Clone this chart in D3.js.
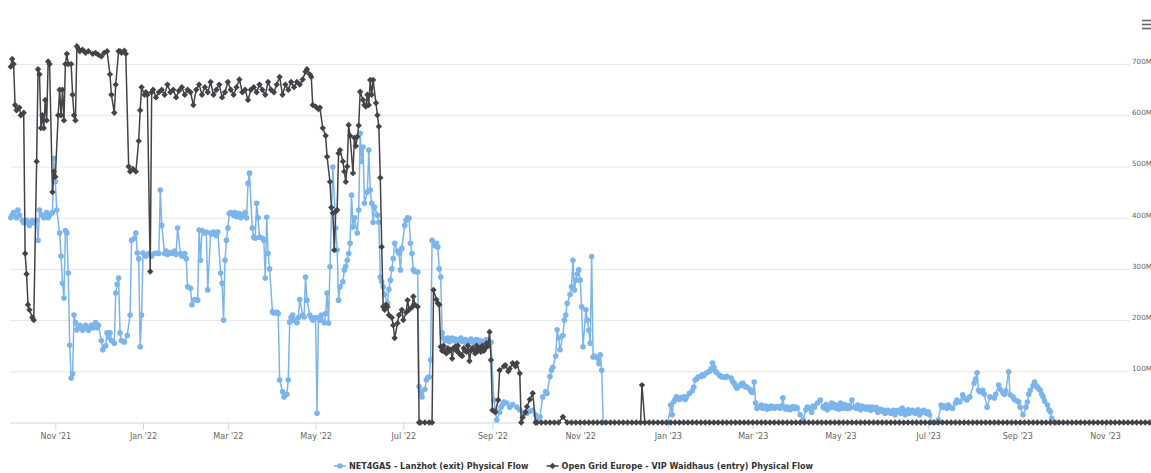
<!DOCTYPE html>
<html><head><meta charset="utf-8">
<script src="https://cdn.jsdelivr.net/npm/d3@7"></script>
<style>html,body{margin:0;padding:0;background:#fff;overflow:hidden}</style>
</head><body><svg id="c" width="1151" height="473"></svg>
<script>
// ---------- DATA ----------
const startDay = "2021-10-01";           // day 0 of the series
const endDay = 793;                        // last day shown on the axis (offset)
const blueName = "NET4GAS - Lanžhot (exit) Physical Flow";
const darkName = "Open Grid Europe - VIP Waidhaus (entry) Physical Flow";
const xTickMonths = ["2021-11-01","2022-01-01","2022-03-01","2022-05-01","2022-07-01","2022-09-01","2022-11-01","2023-01-01","2023-03-01","2023-05-01","2023-07-01","2023-09-01","2023-11-01"];
const yTickValues = [100,200,300,400,500,600,700];
const yTickSuffix = "M";

// [day offset from startDay, flow]
const blueFlow = [[0,400],[1,405],[2,410],[4,400],[5,415],[6,405],[8,395],[9,390],[11,395],[12,390],[13,385],[15,395],[16,390],[18,395],[19,356],[20,415],[22,405],[23,400],[25,410],[26,400],[27,405],[29,410],[30,516],[31,470],[32,415],[34,370],[35,325],[36,272],[37,243],[38,375],[39,370],[40,292],[41,151],[42,87],[43,95],[44,210],[45,195],[46,181],[48,190],[49,185],[50,180],[52,190],[53,185],[54,180],[56,190],[57,185],[59,195],[60,185],[61,190],[63,160],[64,142],[66,150],[67,175],[68,167],[69,175],[70,160],[72,155],[73,253],[74,270],[75,282],[76,175],[77,160],[79,157],[81,170],[83,210],[84,356],[86,360],[87,370],[88,331],[89,320],[90,148],[91,210],[92,331],[94,325],[96,330],[98,325],[100,330],[102,331],[103,330],[104,454],[105,385],[107,330],[108,335],[109,328],[111,332],[112,330],[114,335],[115,328],[116,380],[118,330],[119,325],[121,330],[122,320],[123,265],[125,262],[126,230],[128,240],[130,239],[131,376],[132,317],[133,375],[135,370],[136,372],[137,259],[139,370],[140,368],[141,372],[143,365],[144,372],[146,292],[147,272],[148,200],[149,317],[150,356],[151,380],[152,408],[153,410],[155,405],[156,410],[157,402],[159,408],[160,400],[162,405],[163,410],[164,400],[165,467],[166,487],[168,380],[169,362],[170,360],[171,428],[172,400],[173,362],[175,360],[176,356],[177,282],[178,401],[179,330],[180,300],[182,216],[183,214],[185,215],[186,213],[187,83],[189,60],[190,50],[192,55],[193,83],[194,196],[195,205],[196,210],[197,200],[199,195],[200,205],[201,240],[203,210],[204,206],[205,284],[206,239],[208,210],[209,205],[210,200],[212,205],[213,18],[214,205],[215,200],[216,210],[218,195],[219,213],[220,253],[221,194],[222,304],[224,499],[226,380],[227,337],[228,239],[229,265],[231,275],[232,298],[233,305],[234,317],[235,330],[236,350],[237,444],[238,382],[239,400],[241,370],[242,415],[243,565],[244,510],[245,538],[246,428],[248,450],[249,532],[250,454],[251,428],[252,391],[253,421],[255,405],[256,391],[257,284],[258,275],[259,265],[260,250],[262,233],[263,260],[264,278],[265,300],[266,320],[267,350],[269,335],[270,330],[271,298],[272,340],[274,385],[275,395],[276,400],[277,399],[278,350],[279,330],[280,298],[281,295],[283,294],[284,70],[285,60],[286,50],[288,65],[289,83],[290,88],[291,89],[292,122],[293,356],[295,345],[296,350],[297,343],[298,300],[299,284],[300,175],
[301,165],[302,160],[303,162],[304,165],[305,158],[306,160],[307,165],[308,160],[309,163],[310,158],[311,160],[312,162],[313,165],[314,158],[315,160],[316,162],[317,155],[318,160],[319,158],[320,163],[321,160],[322,155],[323,158],[324,162],[325,155],[326,160],[327,150],[328,158],[329,155],[330,160],[331,162],[332,158],[333,155],[334,157],
[336,44],[337,24],[338,5],[340,20],[341,30],[342,35],[343,40],[345,38],[347,30],[349,35],[352,30],[354,25],[356,20],[359,18],[361,22],[363,24],[365,15],[366,5],[368,11],[370,50],[372,60],[373,57],[375,90],[376,102],[377,108],[379,130],[380,181],[381,165],[382,142],[384,170],[385,200],[386,210],[387,233],[389,250],[390,265],[391,317],[392,259],[393,278],[394,290],[395,298],[396,278],[397,226],[398,148],[400,220],[401,200],[402,180],[403,155],[404,324],[405,128],[406,130],[408,126],[409,115],[410,132],[411,102],[412,0],[457,0],
[459,34],[460,15],[461,40],[462,45],[463,50],[465,45],[466,48],[468,50],[469,45],[470,50],[472,57],[474,62],[475,69],[476,83],[477,85],[478,89],[480,90],[481,93],[482,92],[484,97],[486,100],[487,105],[488,116],[489,108],[490,100],[491,97],[493,92],[494,90],[495,89],[497,88],[498,90],[501,87],[502,80],[503,77],[504,72],[505,67],[507,72],[508,75],[509,77],[510,72],[511,70],[512,69],[514,65],[515,60],[516,59],[517,79],[518,38],[519,28],[521,30],
[522,34],[523,28],[524,30],[525,32],[526,26],[527,30],[528,28],[529,32],[530,30],[531,28],[532,30],[533,31],[534,30],[535,28],[536,32],[537,48],[538,30],[539,26],[540,30],[541,28],[542,25],[543,29],[544,31],[545,27],[546,30],[547,28],
[549,15],[551,5],[553,25],[554,30],[555,28],[557,20],[558,32],[559,30],[561,38],[563,44],
[565,30],[566,28],[567,35],[568,25],[569,32],[570,30],[571,38],[572,30],[573,35],[574,28],[575,32],[576,26],[577,38],[578,30],[579,28],[580,35],[581,30],[582,27],[583,33],[584,29],[585,44],
[587,30],[588,28],[589,34],[590,30],[591,25],[592,32],[593,28],[594,30],[595,26],[596,30],[597,28],[598,24],[599,30],[600,26],[601,28],[602,29],[603,20],[604,24],[605,26],[606,22],
[607,24],[608,18],[609,20],[610,24],[611,22],[612,18],[613,20],[614,24],[615,15],[616,20],[617,24],[618,22],[619,18],[620,28],[621,22],[622,15],[623,20],[624,25],[625,18],[626,22],[627,24],[628,20],[629,18],[630,22],[631,25],[632,15],[633,19],[634,22],[635,24],[636,20],[637,18],[638,21],[639,15],
[641,0],[643,0],[645,5],[647,34],[648,30],[649,32],[651,28],[652,34],[653,30],[655,28],[657,38],[658,44],[660,40],[662,54],[663,48],[665,44],[667,50],[670,77],[671,85],[672,97],[673,63],[674,60],[676,63],[677,55],[679,30],[681,50],[684,48],[685,55],[687,73],[688,65],[690,58],[691,55],[692,62],[694,99],[695,54],[697,50],[698,45],[700,42],[701,40],[702,30],[704,15],[706,30],[707,40],[708,55],[709,63],[711,72],[712,79],[713,72],[714,69],[715,66],[716,63],[717,55],[718,50],[719,42],[721,34],[722,25],[723,21],[724,8],[727,0]];

const darkFlow = [[0,695],[1,710],[2,700],[3,620],[4,610],[6,615],[7,600],[9,605],[10,330],[11,290],[12,230],[13,220],[15,205],[16,200],[18,510],[19,690],[20,680],[21,575],[22,600],[23,575],[24,630],[25,590],[26,705],[27,700],[29,450],[30,490],[31,480],[33,600],[34,650],[35,600],[36,650],[37,590],[38,700],[39,720],[40,700],[42,700],[43,640],[44,600],[45,590],[46,735],[47,730],[48,725],[50,728],[52,722],[54,725],[57,720],[59,722],[61,718],[63,715],[65,722],[67,725],[69,680],[70,640],[72,605],[73,660],[75,725],[76,725],[77,722],[79,726],[80,720],[82,500],[83,490],[85,495],[87,490],[89,550],[90,610],[91,655],[93,640],[94,645],[95,640],[97,295],[98,645],
[99,650],[101,635],[103,645],[105,650],[107,640],[109,660],[111,645],[113,650],[115,635],[117,648],[119,655],[121,640],[123,650],[125,645],[127,620],[129,650],[131,660],[133,640],[135,655],[137,645],[139,665],[141,640],[143,650],[145,660],[147,635],[149,645],[151,665],[153,650],[155,640],[157,655],[159,670],[161,645],[163,650],[165,630],[167,650],[169,655],[171,645],[173,660],[175,650],[177,640],[179,665],[181,650],[183,645],[185,660],[187,675],[189,640],[191,660],[193,650],[195,665],[197,655],[199,665],[201,660],[203,670],
[205,685],[206,690],[208,680],[209,675],[210,620],[212,617],[214,612],[215,615],[217,575],[219,560],[220,519],[222,470],[223,420],[224,409],[225,337],[226,412],[227,415],[228,526],[229,532],[231,510],[232,490],[233,470],[234,500],[235,581],[236,560],[238,487],[239,556],[240,540],[241,558],[242,580],[243,646],[245,630],[246,620],[247,617],[248,640],[249,620],[250,669],[251,640],[252,669],[254,624],[255,600],[256,578],[257,478],[258,343],[259,226],[260,220],[261,230],[262,226],[263,210],[265,205],[266,190],[267,165],[269,194],[270,210],[272,220],[273,200],[275,215],[276,239],[277,220],[279,225],[280,246],[281,230],[283,226],[284,0],[285,0],[288,0],[291,0],[293,0],[294,259],[296,240],[297,233],[298,230],[299,148],[300,140],
[301,150],[302,138],[303,135],[304,145],[305,140],[306,142],[307,125],[308,145],[309,148],[310,140],[311,150],[312,135],[313,132],[314,130],[315,145],[316,140],[317,138],[318,150],[319,120],[320,140],[321,145],[322,142],[323,135],[324,150],[325,140],[326,145],[327,138],[328,150],[329,140],[330,145],[331,155],[332,150],
[333,177],[334,122],[335,24],[337,20],[339,44],[340,102],[343,110],[344,112],[346,100],[347,105],[349,116],[351,110],[352,116],[354,96],[355,0],[356,10],[358,20],[359,31],[361,45],[363,57],[365,0],
[366,0],[369,0],[372,0],[375,0],[378,0],[381,0],[384,11],[387,0],[390,0],[393,0],[396,0],[399,0],[402,0],[405,0],[408,0],[411,0],[414,0],[417,0],[420,0],[423,0],[426,0],[429,0],[432,0],[435,0],[438,0],[439,73],[441,0],[444,0],[447,0],[450,0],[453,0],[456,0],[459,0],[462,0],[465,0],[468,0],[471,0],[474,0],[477,0],[480,0],[483,0],[486,0],[489,0],[492,0],[495,0],[498,0],[501,0],[504,0],[507,0],[510,0],[513,0],[516,0],[519,0],[522,0],[525,0],[528,0],[531,0],[534,0],[537,0],[540,0],[543,0],[546,0],[549,0],[552,0],[555,0],[558,0],[561,0],[564,0],[567,0],[570,0],[573,0],[576,0],[579,0],[582,0],[585,0],[588,0],[591,0],[594,0],[597,0],[600,0],[603,0],[606,0],[609,0],[612,0],[615,0],[618,0],[621,0],[624,0],[627,0],[630,0],[633,0],[636,0],[639,0],[642,0],[645,0],[648,0],[651,0],[654,0],[657,0],[660,0],[663,0],[666,0],[669,0],[672,0],[675,0],[678,0],[681,0],[684,0],[687,0],[690,0],[693,0],[696,0],[699,0],[702,0],[705,0],[708,0],[711,0],[714,0],[717,0],[720,0],[723,0],[726,0],[729,0],[732,0],[735,0],[738,0],[741,0],[744,0],[747,0],[750,0],[753,0],[756,0],[759,0],[762,0],[765,0],[768,0],[771,0],[774,0],[777,0],[780,0],[783,0],[786,0],[789,0],[792,0]];

// ---------- DRAW ----------
const W = 1151, H = 473;
const FONT = "'DejaVu Sans', 'Liberation Sans', sans-serif";
const blueColor = "#7cb5ec", darkColor = "#434348";
const svg = d3.select("#c");
const parse = d3.utcParse("%Y-%m-%d");
const t0 = parse(startDay);
const toDate = d => d3.utcDay.offset(t0, d);
const plotLeft = 10, gridRight = 1130;

const x = d3.scaleUtc().domain([t0, toDate(endDay)]).range([10.75, W]);
const y = d3.scaleLinear().domain([0, 700]).range([422.5, 64.1]);

// gridlines
const grid = svg.append("g").attr("transform", `translate(${gridRight},0)`)
  .call(d3.axisLeft(y).tickValues(yTickValues).tickSize(gridRight - plotLeft).tickFormat(""));
grid.select(".domain").remove();
grid.selectAll("line").attr("stroke", "#e6e6e6").attr("stroke-width", 1);

// y labels (right side)
const yl = svg.append("g").attr("transform", `translate(1132,-3)`)
  .call(d3.axisRight(y).tickValues(yTickValues).tickSize(0).tickPadding(0).tickFormat(v => v + yTickSuffix));
yl.select(".domain").remove();
yl.selectAll("text").attr("fill", "#666").style("font-family", FONT).style("font-size", "7.2px");

// x axis
const xa = svg.append("g").attr("transform", `translate(0,${y(0)})`)
  .call(d3.axisBottom(x).tickValues(xTickMonths.map(parse)).tickFormat(d3.utcFormat("%b '%y")).tickSize(7).tickPadding(4));
xa.select(".domain").remove();
xa.selectAll("line").attr("stroke", "#ccd6eb");
xa.selectAll("text").attr("fill", "#666").style("font-family", FONT).style("font-size", "8px");
svg.append("line").attr("x1", plotLeft).attr("x2", W).attr("y1", y(0) + 0.5).attr("y2", y(0) + 0.5)
  .attr("stroke", "#ccd6eb");

// series
const line = d3.line().x(d => x(toDate(d[0]))).y(d => y(d[1]));
function drawSeries(data, color, shape) {
  const g = svg.append("g");
  g.append("path").datum(data).attr("d", line).attr("fill", "none")
    .attr("stroke", color).attr("stroke-width", 1.5).attr("stroke-linejoin", "round");
  if (shape === "circle") {
    g.selectAll("circle").data(data).join("circle")
      .attr("cx", d => x(toDate(d[0]))).attr("cy", d => y(d[1])).attr("r", 2.8).attr("fill", color);
  } else {
    g.selectAll("path.m").data(data).join("path").attr("class", "m")
      .attr("d", d => { const cx = x(toDate(d[0])), cy = y(d[1]), r = 3.2;
        return `M${cx},${cy - r}L${cx + r},${cy}L${cx},${cy + r}L${cx - r},${cy}Z`; })
      .attr("fill", color);
  }
}
drawSeries(blueFlow, blueColor, "circle");
drawSeries(darkFlow, darkColor, "diamond");

// menu icon
const menu = svg.append("g").attr("stroke", "#666").attr("stroke-width", 1.6);
[20.5, 24.5, 28.5].forEach(yy => menu.append("line").attr("x1", 1142).attr("x2", 1153).attr("y1", yy).attr("y2", yy));

// legend
const leg = svg.append("g");
const items = [{name: blueName, color: blueColor, shape: "circle"}, {name: darkName, color: darkColor, shape: "diamond"}];
let cursor = 0;
const ly = 466;
items.forEach((it, i) => {
  const g = leg.append("g").attr("transform", `translate(${cursor},0)`);
  g.append("line").attr("x1", 0).attr("x2", 12).attr("y1", ly).attr("y2", ly).attr("stroke", it.color).attr("stroke-width", 1.5);
  if (it.shape === "circle") g.append("circle").attr("cx", 6).attr("cy", ly).attr("r", 2.8).attr("fill", it.color);
  else g.append("path").attr("d", `M6,${ly-3.2}L9.2,${ly}L6,${ly+3.2}L2.8,${ly}Z`).attr("fill", it.color);
  const t = g.append("text").attr("x", 15).attr("y", ly + 3).text(it.name)
    .attr("fill", "#333").style("font-family", FONT).style("font-size", "8.1px").style("font-weight", "bold");
  cursor += 15 + t.node().getComputedTextLength() + 18;
});
const legW = cursor - 18;
leg.attr("transform", `translate(${(W - legW) / 2 - 2},0)`);
</script></body></html>
